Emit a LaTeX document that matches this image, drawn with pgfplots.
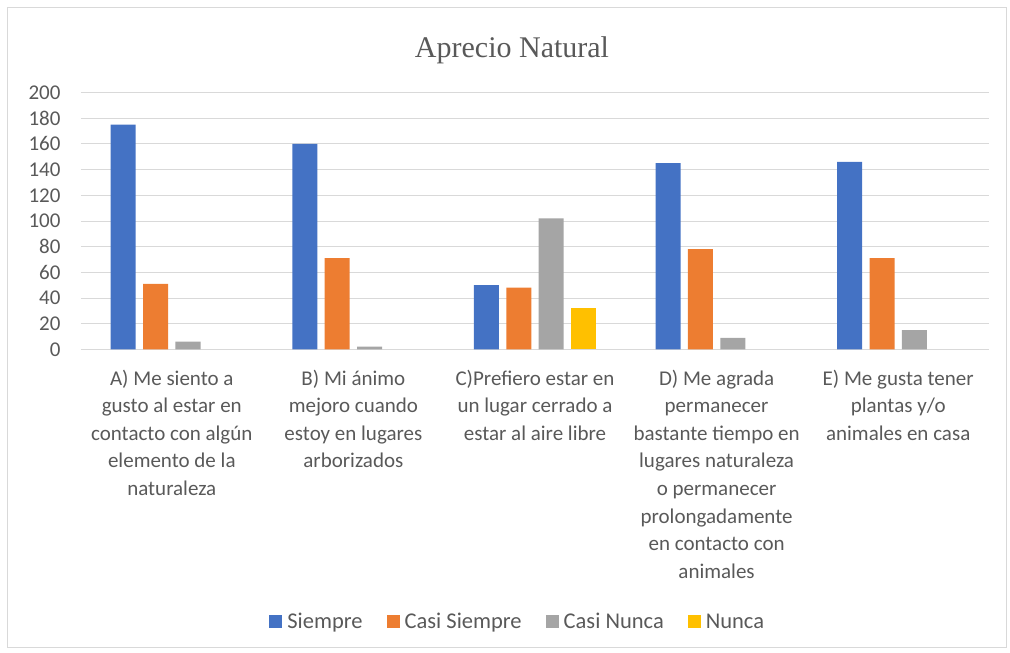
\documentclass[border=0pt]{standalone}
\usepackage{pgfplots}
\pgfplotsset{compat=1.18}
\usepackage{fontspec}
\setmainfont{Carlito}
\newfontfamily\titlefont{Liberation Serif}
\definecolor{xlblue}{HTML}{4472C4}
\definecolor{xlorange}{HTML}{ED7D31}
\definecolor{xlgray}{HTML}{A5A5A5}
\definecolor{xlyellow}{HTML}{FFC000}
\definecolor{gridgray}{HTML}{D9D9D9}
\definecolor{labelgray}{HTML}{595959}
\pgfplotsset{sqlegend/.style={legend image code/.code={\fill[##1] (0pt,-6.5pt) rectangle (13pt,6.5pt);}}}

\begin{document}
\begin{tikzpicture}[x=1pt,y=1pt]
  \useasboundingbox (-81,-303.7) rectangle (929,349.3);
  \draw[gridgray, line width=0.8pt] (-74,-297.7) rectangle (925,342.3);
  \node[anchor=base, font=\titlefont\fontsize{30}{36}\selectfont, text=labelgray] at (431,292) {Aprecio Natural};
  \begin{axis}[
    at={(0,0)}, anchor=south west,
    scale only axis, width=908pt, height=256.7pt,
    xmin=-0.5, xmax=4.5, ymin=0, ymax=200,
    xtick={0,...,4}, ytick={0,20,...,200},
    xticklabels={
      {A) Me siento a\\gusto al estar en\\contacto con algún\\elemento de la\\naturaleza},
      {B) Mi ánimo\\mejoro cuando\\estoy en lugares\\arborizados},
      {C)Prefiero estar en\\un lugar cerrado a\\estar al aire libre},
      {D) Me agrada\\permanecer\\bastante tiempo en\\lugares naturaleza\\o permanecer\\prolongadamente\\en contacto con\\animales},
      {E) Me gusta tener\\plantas y/o\\animales en casa}},
    ybar=7.4pt, bar width=25pt,
    axis x line*=bottom, axis y line*=left,
    x axis line style={draw=gridgray, line width=0.9pt, -},
    y axis line style={draw=none},
    major tick length=0pt,
    ymajorgrids, grid style={gridgray, line width=0.9pt},
    /pgf/number format/assume math mode=true,
    tick label style={font=\fontsize{21}{27.6}\selectfont, text=labelgray},
    xticklabel style={align=center, yshift=-17pt},
    yticklabel style={xshift=-17pt},
    legend style={at={(0.481,-1.062)}, anchor=center, draw=none, fill=none,
      font=\fontsize{22.5}{26}\selectfont, text=labelgray,
      /tikz/every odd column/.append style={column sep=3pt},
      /tikz/every even column/.append style={column sep=22pt}},
    legend columns=4,
  ]
    \addplot[fill=xlblue, draw=none, sqlegend] coordinates {(0,175) (1,160) (2,50) (3,145) (4,146)};
    \addlegendentry{Siempre}
    \addplot[fill=xlorange, draw=none, sqlegend] coordinates {(0,51) (1,71) (2,48) (3,78) (4,71)};
    \addlegendentry{Casi Siempre}
    \addplot[fill=xlgray, draw=none, sqlegend] coordinates {(0,6) (1,2) (2,102) (3,9) (4,15)};
    \addlegendentry{Casi Nunca}
    \addplot[fill=xlyellow, draw=none, sqlegend] coordinates {(2,32)};
    \addlegendentry{Nunca}
  \end{axis}
\end{tikzpicture}
\end{document}
